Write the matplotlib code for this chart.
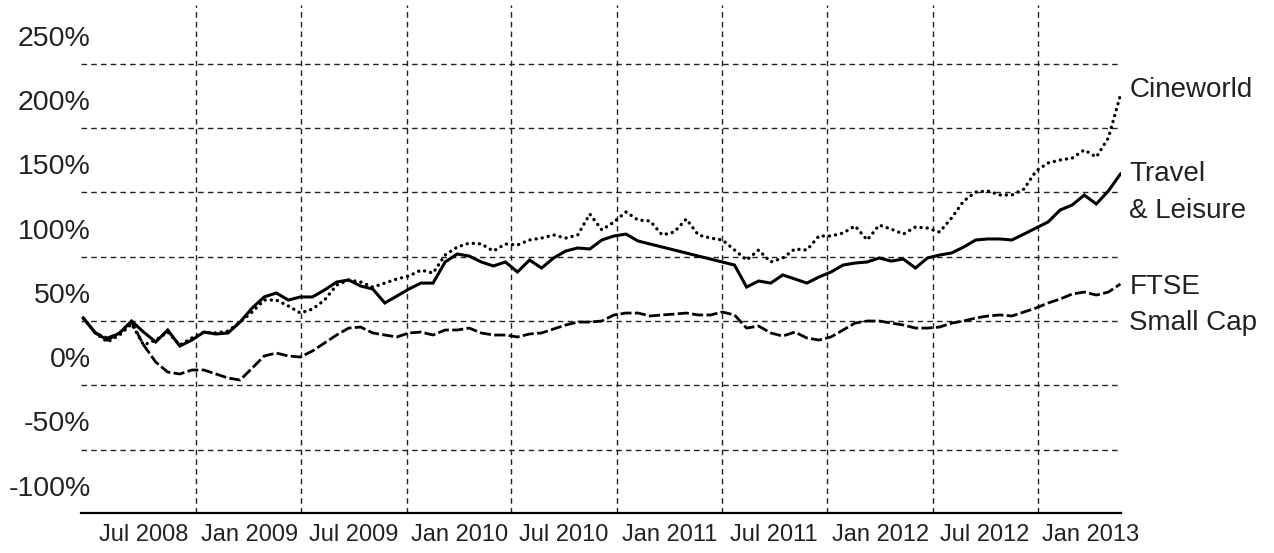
import matplotlib
matplotlib.use("Agg")
from matplotlib import pyplot as plt
import matplotlib.dates as mdates
from matplotlib.ticker import FixedLocator
from matplotlib.transforms import ScaledTranslation
import numpy as np
import pandas as pd

plt.rcParams["font.family"] = ["Liberation Sans", "DejaVu Sans"]

# sample dates, roughly every three weeks
dates = pd.date_range("2008-03-19", "2013-02-21", periods=87)

# Travel & Leisure (no data between Feb and Jun 2011 -> NaN)
travel = [27.3, 15.7, 10.2, 15.7, 25.0, 16.4, 8.7, 18.0, 5.5, 10.2,
          16.4, 14.9, 15.7, 24.2, 35.1, 43.7, 46.8, 41.3, 43.7, 43.7,
          49.1, 55.3, 56.9, 52.2, 49.9, 39.0, 44.4, 49.9, 54.5, 54.5,
          70.9, 77.1, 75.5, 70.9, 67.8, 70.9, 63.1, 72.4, 66.2, 74.0,
          79.4, 81.8, 81.0, 88.0, 91.1, 92.6, 87.2, np.nan, np.nan, np.nan,
          np.nan, np.nan, np.nan, np.nan, 68.5, 51.4, 56.1, 54.5, 60.8, 57.7,
          54.5, 59.2, 63.1, 68.5, 70.1, 70.9, 74.0, 71.6, 73.2, 66.2,
          74.0, 76.3, 77.9, 82.5, 88.0, 88.8, 88.8, 88.0, 92.6, 97.3,
          102.0, 111.3, 115.2, 122.9, 116.0, 126.1, 139.3]

cineworld = [27.3, 15.7, 8.7, 14.1, 22.7, 6.3, 10.2, 16.4, 6.3, 11.8,
             16.4, 15.7, 17.2, 24.2, 32.0, 41.3, 41.3, 36.7, 31.2, 34.3,
             41.3, 52.9, 56.9, 55.3, 51.4, 54.5, 57.7, 60.0, 64.6, 62.3,
             76.3, 82.5, 85.6, 84.9, 79.4, 84.9, 84.1, 88.0, 89.5, 91.9,
             89.5, 91.9, 108.2, 95.8, 102.0, 109.8, 103.5, 102.8, 91.9, 94.2,
             104.3, 91.9, 89.5, 88.0, 80.2, 72.4, 80.2, 70.9, 74.0, 81.0,
             80.2, 91.1, 91.1, 93.4, 98.9, 88.0, 99.6, 96.5, 92.6, 98.1,
             97.3, 94.2, 105.1, 118.3, 125.3, 126.1, 123.0, 123.0, 127.6, 141.6,
             147.9, 150.2, 151.7, 158.0, 152.5, 167.3, 200.7]

ftse_small = [27.3, 15.7, 11.8, 15.7, 24.2, 6.3, -6.9, -14.7, -16.2, -13.1,
              -13.1, -16.2, -19.3, -20.9, -11.6, -2.2, 0.1, -2.2, -3.0, 1.7,
              7.9, 14.1, 19.5, 20.3, 15.7, 14.1, 12.6, 15.7, 16.4, 14.1,
              18.0, 18.0, 19.5, 15.7, 14.1, 14.1, 12.6, 14.9, 15.7, 18.8,
              21.9, 24.2, 24.2, 25.0, 29.7, 31.2, 31.2, 28.9, 29.7, 30.4,
              31.2, 29.7, 29.7, 32.0, 29.7, 19.5, 21.1, 15.7, 13.3, 16.4,
              11.8, 10.2, 12.6, 18.0, 23.4, 25.0, 25.0, 23.4, 21.9, 19.5,
              19.5, 20.3, 23.4, 25.0, 27.3, 28.9, 29.7, 28.9, 32.0, 35.1,
              39.0, 42.1, 46.0, 47.5, 45.2, 47.5, 53.8]

y_labels = [-100, -50, 0, 50, 100, 150, 200, 250]
y_grid = [-75, -25, 25, 75, 125, 175, 225]
x_grid = pd.date_range("2008-10-01", "2012-10-01", freq="6MS")

end_labels = [("Cineworld", 205), ("Travel", 139.3), ("& Leisure", 110.5),
              ("FTSE", 51.4), ("Small Cap", 23.4)]

fig = plt.figure(figsize=(12.74, 5.53), dpi=100)
ax = fig.add_axes([0.0636, 0.0723, 0.8163, 0.9186])

travel = np.array(travel)
ok = ~np.isnan(travel)
ax.plot(dates[ok], travel[ok], color="black", lw=2.2, solid_joinstyle="miter")
ax.plot(dates, cineworld, color="black", lw=2.4, linestyle=(0, (0.05, 1.8)),
        dash_capstyle="round")
ax.plot(dates, ftse_small, color="black", lw=2.0, linestyle=(0, (4, 1.2)))

ax.set_xlim(pd.Timestamp("2008-03-15"), pd.Timestamp("2013-02-22"))
ax.set_ylim(-124.3, 270.7)

ax.xaxis.set_major_locator(mdates.MonthLocator(bymonth=[1, 7]))
ax.xaxis.set_major_formatter(mdates.DateFormatter("%b %Y"))
ax.xaxis.set_minor_locator(FixedLocator(mdates.date2num(x_grid)))
ax.yaxis.set_major_locator(FixedLocator(y_labels))
ax.yaxis.set_minor_locator(FixedLocator(y_grid))
ax.set_yticklabels([f"{v}%" for v in y_labels])

ax.grid(False)
ax.grid(which="minor", color="#222222", lw=1.0, linestyle=(0, (4, 3)))
ax.tick_params(which="both", length=0)
ax.tick_params(axis="y", labelsize=20.5, pad=-7, colors="#222222")
ax.tick_params(axis="x", labelsize=17, pad=8, colors="#222222")

# tick labels sit a little below the midpoints in the original
shift = ScaledTranslation(0, -4 / 100, fig.dpi_scale_trans)
for lbl in ax.get_yticklabels():
    lbl.set_transform(lbl.get_transform() + shift)

for s in ["top", "right", "left"]:
    ax.spines[s].set_visible(False)
ax.spines["bottom"].set_linewidth(1.6)

for txt, yv in end_labels:
    ax.text(1.008, yv, txt, transform=ax.get_yaxis_transform(), ha="left",
            va="center", fontsize=20, color="#222222")

fig.savefig("out.png", dpi=100)
